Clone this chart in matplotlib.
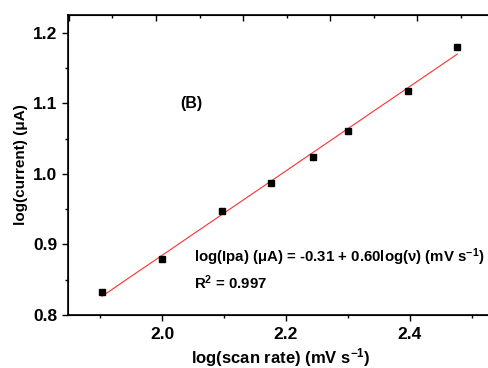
import matplotlib
matplotlib.use("Agg")
import matplotlib.pyplot as plt
import numpy as np
from matplotlib.ticker import MultipleLocator

# log10 of scan rate (mV/s) and log10 of peak current (uA)
log_scan = [1.903, 2.000, 2.097, 2.176, 2.243, 2.301, 2.398, 2.477]
log_ipa = [0.833, 0.880, 0.947, 0.987, 1.024, 1.061, 1.118, 1.180]

plt.rcParams['font.family'] = ['Liberation Sans', 'DejaVu Sans']
plt.rcParams['font.weight'] = 'bold'
plt.rcParams['mathtext.fontset'] = 'custom'
plt.rcParams['mathtext.rm'] = 'Liberation Sans:bold'
plt.rcParams['mathtext.it'] = 'Liberation Sans:bold'
plt.rcParams['mathtext.bf'] = 'Liberation Sans:bold'
plt.rcParams['mathtext.default'] = 'rm'

fig = plt.figure(figsize=(4.89, 3.68), dpi=100)
ax = fig.add_axes([68/489, 53/368, 1.01 - 68/489, 300/368])

x = np.array(log_scan)
y = np.array(log_ipa)
slope, icpt = np.polyfit(x, y, 1)
ax.plot(x, icpt + slope*x, color='#ff3030', lw=0.8)
ax.plot(x, y, 's', color='black', ms=5)

ax.set_xlim(1.848, 2.536)
ax.set_ylim(0.8, 1.225)
ax.xaxis.set_major_locator(MultipleLocator(0.2))
ax.xaxis.set_minor_locator(MultipleLocator(0.1))
ax.yaxis.set_major_locator(MultipleLocator(0.1))
ax.yaxis.set_minor_locator(MultipleLocator(0.05))
ax.tick_params(which='major', direction='out', length=4.5, width=1, labelsize=12.5)
ax.tick_params(which='minor', direction='out', length=2.5, width=1)
ax.tick_params(axis='x', pad=4)
ax.tick_params(axis='y', pad=3)
for s in ['left', 'bottom', 'top']:
    ax.spines[s].set_linewidth(1.2)
ax.spines['right'].set_visible(False)

# top axis with its own tick spacing
ax2 = ax.twiny()
ax2.set_xlim(-1.011, 3.882)
ax2.xaxis.set_major_locator(MultipleLocator(1))
ax2.xaxis.set_minor_locator(MultipleLocator(0.5))
ax2.tick_params(which='major', direction='in', length=4, width=1, labeltop=False)
ax2.tick_params(which='minor', direction='in', length=2, width=1)
ax2.spines['right'].set_visible(False)

ax.set_xlabel('log(scan rate) (mV s$^{-1}$)', fontsize=12, fontweight='bold', labelpad=3)
ax.set_ylabel('log(current) (\u03bcA)', fontsize=11, fontweight='bold', labelpad=4)

ax.text(2.047, 1.100, '(B)', fontsize=11.5, fontweight='bold', ha='center', va='center')
ax.text(2.052, 0.8815, 'log(Ipa) (\u03bcA) = -0.31 + 0.60log(\u03bd) (mV s$^{-1}$)',
        fontsize=10.8, fontweight='bold', va='center')
ax.text(2.052, 0.846, 'R$^2$ = 0.997', fontsize=10.8, fontweight='bold', va='center')

fig.savefig('out.png', dpi=100)
